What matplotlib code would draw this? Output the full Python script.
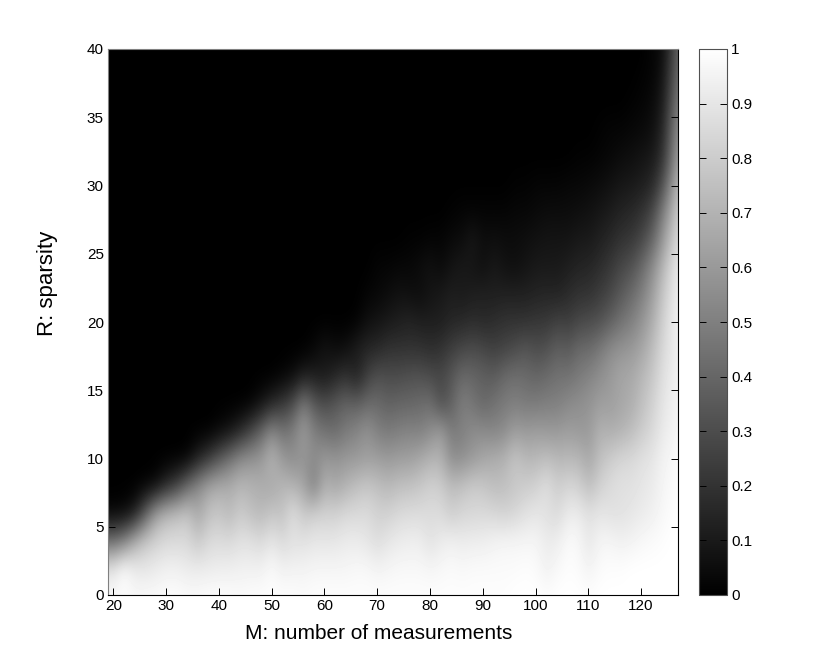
import numpy as np
import matplotlib
matplotlib.use('Agg')
import matplotlib.pyplot as plt

plt.rcParams['font.family'] = ['Liberation Sans', 'DejaVu Sans']

# M = 20, 22, ... 128, one list per sparsity level
measurements = list(range(20, 129, 2))
sparsity = list(range(0, 41, 2))

r00 = [.97, .98, .97, .98, .98, .99, .99, .98, .98, .99, .99, .99, .98, .99, .99, .99, .99, .99, .98, .99,
       .99, .99, .99, .99, .99, .99, .99, .99, .99, .99, .99, .99, .99, .99, .99, .99, .99, .99, 1, 1,
       1, .99, 1, 1, 1, .99, 1, 1, 1, 1, 1, 1, 1, 1, 1]
r02 = [.90, 1, .92, .90, .92, .94, .94, .92, .92, .92, .93, .93, .94, .94, .94, .98, .94, .95, .95, .96,
       .96, .96, .96, .97, .97, .95, .96, .97, .97, .97, .96, .97, .98, .97, .98, .98, .98, .98, .98, .99,
       .98, .94, .97, .99, .98, .95, .98, .99, .99, 1, 1, 1, 1, 1, 1]
r04 = [.42, .50, .68, .78, .82, .85, .85, .85, .78, .85, .86, .85, .88, .88, .85, .90, .85, .88, .88, .90,
       .90, .90, .92, .92, .90, .86, .90, .92, .93, .93, .88, .92, .94, .92, .93, .93, .95, .96, .96, .96,
       .96, .92, .93, .98, .97, .90, .96, .96, .94, .95, .97, .98, .99, 1, 1]
r06 = [.02, .03, .10, .35, .62, .72, .75, .78, .65, .75, .78, .72, .80, .75, .72, .78, .75, .88, .78, .82,
       .82, .82, .85, .85, .86, .82, .82, .85, .86, .86, .86, .86, .80, .84, .84, .85, .84, .82, .84, .88,
       .90, .88, .85, .92, .92, .88, .90, .88, .88, .90, .92, .94, .97, .99, 1]
r08 = [0, 0, 0, .01, .03, .15, .25, .42, .55, .65, .68, .68, .72, .70, .68, .65, .72, .70, .65, .48,
       .70, .65, .70, .75, .78, .75, .72, .75, .76, .78, .82, .80, .74, .76, .80, .78, .74, .75, .78, .80,
       .82, .88, .80, .84, .82, .74, .82, .86, .88, .88, .90, .92, .96, .98, 1]
r10 = [0] * 7 + [.01, .12, .22, .34, .45, .55, .58, .60, .72, .60, .55, .58, .55, .60, .58, .60, .60, .62, .62,
                 .60, .62, .62, .66, .70, .70, .55, .56, .60, .65, .68, .70, .78, .72, .72, .75, .72, .72, .72, .65,
                 .75, .80, .84, .85, .88, .90, .95, .97, 1]
r12 = [0] * 10 + [.03, .07, .15, .27, .40, .55, .45, .50, .62, .50, .45, .42, .48, .52, .58, .50,
                  .48, .50, .52, .50, .55, .62, .48, .50, .55, .55, .52, .55, .62, .60, .62, .60, .60, .62, .60, .60,
                  .70, .68, .70, .74, .80, .85, .92, .95, .98]
r14 = [0] * 13 + [.01, .07, .15, .22, .30, .50, .35, .30, .35, .40, .38, .42, .42,
                  .38, .40, .40, .42, .44, .30, .38, .50, .46, .40, .45, .48, .50, .48, .48, .50, .50, .54, .56, .58,
                  .62, .62, .65, .68, .75, .82, .90, .94, .97]
r16 = [0] * 16 + [.02, .05, .12, .12, .10, .15, .20, .12, .25, .32,
                  .30, .30, .32, .32, .30, .28, .34, .42, .40, .38, .36, .42, .44, .42, .40, .42, .45, .45, .48, .52,
                  .56, .60, .65, .66, .72, .78, .88, .93, .97]
r18 = [0] * 19 + [.03, .08, .05, .06, .12, .15, .16,
                  .20, .20, .20, .20, .18, .20, .25, .28, .30, .28, .25, .27, .30, .34, .30, .32, .38, .35, .42, .42,
                  .48, .55, .58, .60, .65, .74, .85, .92, .96]
r20 = [0] * 23 + [.01, .06, .08,
                  .10, .12, .14, .12, .12, .12, .15, .16, .18, .16, .18, .20, .20, .20, .22, .22, .26, .24, .28, .30,
                  .32, .38, .45, .50, .58, .68, .82, .92, .97]
r22 = [0] * 24 + [.02, .03,
                  .05, .07, .06, .05, .08, .10, .12, .10, .12, .13, .12, .13, .13, .13, .14, .15, .14, .17, .20, .20,
                  .24, .28, .35, .42, .50, .62, .78, .90, .96]
r24 = [0] * 25 + [.02,
                  .02, .03, .03, .05, .07, .04, .08, .10, .08, .06, .10, .07, .06, .08, .10, .10, .10, .12, .14, .15,
                  .18, .22, .28, .32, .42, .55, .72, .88, .95]
r26 = [0] * 28 + [.01, .01, .02, .02, .04, .05, .10, .05, .06, .05, .05, .06, .07, .08, .08, .08, .10, .10,
                  .13, .16, .20, .22, .28, .40, .60, .80, .90]
r28 = [0] * 32 + [.01, .02, .02, .02, .02, .02, .03, .03, .04, .05, .05, .05, .06, .07,
                  .09, .11, .14, .16, .20, .28, .50, .72, .88]
r30 = [0] * 38 + [.01, .01, .02, .02, .02, .03, .03, .04,
                  .05, .07, .09, .10, .12, .16, .32, .62, .80]
r32 = [0] * 44 + [.01, .01, .02, .03, .05, .06, .08, .10, .20, .50, .72]
r34 = [0] * 46 + [.01, .02, .02, .03, .04, .06, .15, .45, .65]
r36 = [0] * 49 + [.01, .02, .04, .11, .38, .58]
r38 = [0] * 50 + [.01, .02, .08, .32, .52]
r40 = [0] * 51 + [.02, .05, .28, .48]

x_ticks = [20, 30, 40, 50, 60, 70, 80, 90, 100, 110, 120]
y_ticks = [0, 5, 10, 15, 20, 25, 30, 35, 40]
cbar_ticks = [0, 0.1, 0.2, 0.3, 0.4, 0.5, 0.6, 0.7, 0.8, 0.9, 1]
cbar_labels = ['0', '0.1', '0.2', '0.3', '0.4', '0.5', '0.6', '0.7', '0.8', '0.9', '1']

grid = np.array([r00, r02, r04, r06, r08, r10, r12, r14, r16, r18, r20,
                 r22, r24, r26, r28, r30, r32, r34, r36, r38, r40])

W, H = 830, 669
fig = plt.figure(figsize=(W / 100, H / 100), dpi=100)
ax = fig.add_axes([108 / W, 1 - 595 / H, (678 - 108) / W, (595 - 49) / H])
cax = fig.add_axes([699 / W, 1 - 595 / H, (727 - 699) / W, (595 - 49) / H])

im = ax.imshow(grid, origin='lower', cmap='gray', vmin=0, vmax=1, aspect='auto',
               interpolation='bicubic', extent=[19, 129, -1, 41])
ax.set_xlim(19, 127)
ax.set_ylim(0, 40)
ax.set_xticks(x_ticks)
ax.set_yticks(y_ticks)
ax.tick_params(direction='in', length=5, width=0.7, top=True, right=True, labelsize=11, pad=3)
ax.set_xlabel('M: number of measurements', fontsize=15)
ax.xaxis.set_label_coords(0.475, -0.053)
ax.set_ylabel('R: sparsity', fontsize=16)
ax.yaxis.set_label_coords(-0.088, 0.57)

cb = fig.colorbar(im, cax=cax)
cb.set_ticks(cbar_ticks)
cb.set_ticklabels(cbar_labels)
cax.tick_params(direction='in', length=5, width=0.7, left=True, right=True, labelsize=11, pad=3)
cb.minorticks_off()

for a in [ax, cax]:
    for s in a.spines.values():
        s.set_linewidth(0.8)
    a.spines['top'].set_color('#808080')
    a.spines['left'].set_color('#808080')
cb.outline.set_linewidth(0.8)
cb.outline.set_edgecolor('#505050')

fig.savefig('out.png', dpi=100)
